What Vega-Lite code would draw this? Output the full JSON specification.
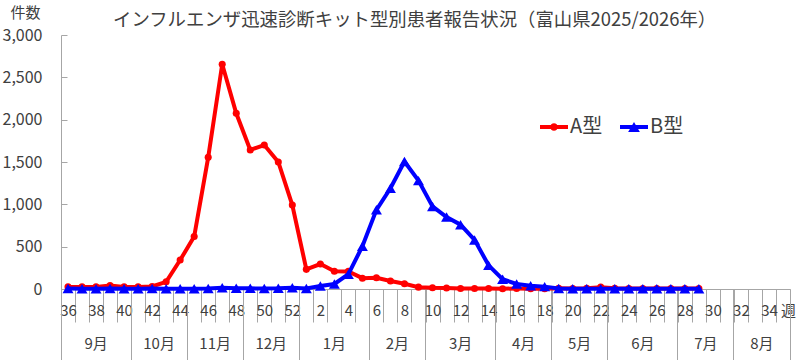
{
  "$schema": "https://vega.github.io/schema/vega-lite/v6.json",
  "autosize": "none",
  "width": 729,
  "height": 254,
  "padding": {"left": 61, "top": 35, "right": 10, "bottom": 71},
  "background": "white",
  "config": {"view": {"stroke": null}, "font": "Noto Sans CJK JP"},
  "title": {"text": "インフルエンザ迅速診断キット型別患者報告状況（富山県2025/2026年）", "anchor": "start", "frame": "group", "dx": 52, "dy": 28, "fontSize": 18.4, "fontWeight": "normal", "color": "#404040", "font": "Noto Sans CJK JP"},
  "data": {"values": [
    {"week":"36","type":"A型","count":25},{"week":"37","type":"A型","count":25},{"week":"38","type":"A型","count":25},{"week":"39","type":"A型","count":40},{"week":"40","type":"A型","count":25},{"week":"41","type":"A型","count":25},{"week":"42","type":"A型","count":30},{"week":"43","type":"A型","count":85},{"week":"44","type":"A型","count":342},{"week":"45","type":"A型","count":620},{"week":"46","type":"A型","count":1555},{"week":"47","type":"A型","count":2655},{"week":"48","type":"A型","count":2075},{"week":"49","type":"A型","count":1642},{"week":"50","type":"A型","count":1700},{"week":"51","type":"A型","count":1500},{"week":"52","type":"A型","count":992},{"week":"1","type":"A型","count":232},{"week":"2","type":"A型","count":295},{"week":"3","type":"A型","count":210},{"week":"4","type":"A型","count":208},{"week":"5","type":"A型","count":128},{"week":"6","type":"A型","count":132},{"week":"7","type":"A型","count":95},{"week":"8","type":"A型","count":62},{"week":"9","type":"A型","count":22},{"week":"10","type":"A型","count":15},{"week":"11","type":"A型","count":12},{"week":"12","type":"A型","count":6},{"week":"13","type":"A型","count":6},{"week":"14","type":"A型","count":5},{"week":"15","type":"A型","count":4},{"week":"16","type":"A型","count":5},{"week":"17","type":"A型","count":3},{"week":"18","type":"A型","count":3},{"week":"19","type":"A型","count":8},{"week":"20","type":"A型","count":5},{"week":"21","type":"A型","count":8},{"week":"22","type":"A型","count":22},{"week":"23","type":"A型","count":8},{"week":"24","type":"A型","count":5},{"week":"25","type":"A型","count":5},{"week":"26","type":"A型","count":5},{"week":"27","type":"A型","count":5},{"week":"28","type":"A型","count":5},{"week":"29","type":"A型","count":5},
    {"week":"36","type":"B型","count":5},{"week":"37","type":"B型","count":3},{"week":"38","type":"B型","count":3},{"week":"39","type":"B型","count":5},{"week":"40","type":"B型","count":3},{"week":"41","type":"B型","count":3},{"week":"42","type":"B型","count":5},{"week":"43","type":"B型","count":3},{"week":"44","type":"B型","count":3},{"week":"45","type":"B型","count":3},{"week":"46","type":"B型","count":5},{"week":"47","type":"B型","count":15},{"week":"48","type":"B型","count":10},{"week":"49","type":"B型","count":8},{"week":"50","type":"B型","count":5},{"week":"51","type":"B型","count":8},{"week":"52","type":"B型","count":15},{"week":"1","type":"B型","count":5},{"week":"2","type":"B型","count":35},{"week":"3","type":"B型","count":59},{"week":"4","type":"B型","count":175},{"week":"5","type":"B型","count":505},{"week":"6","type":"B型","count":935},{"week":"7","type":"B型","count":1190},{"week":"8","type":"B型","count":1505},{"week":"9","type":"B型","count":1280},{"week":"10","type":"B型","count":975},{"week":"11","type":"B型","count":850},{"week":"12","type":"B型","count":760},{"week":"13","type":"B型","count":580},{"week":"14","type":"B型","count":280},{"week":"15","type":"B型","count":115},{"week":"16","type":"B型","count":60},{"week":"17","type":"B型","count":38},{"week":"18","type":"B型","count":28},{"week":"19","type":"B型","count":5},{"week":"20","type":"B型","count":3},{"week":"21","type":"B型","count":3},{"week":"22","type":"B型","count":3},{"week":"23","type":"B型","count":3},{"week":"24","type":"B型","count":3},{"week":"25","type":"B型","count":3},{"week":"26","type":"B型","count":3},{"week":"27","type":"B型","count":3},{"week":"28","type":"B型","count":3},{"week":"29","type":"B型","count":3}
  ]},
  "resolve": {"axis": {"x": "independent"}},
  "layer": [
    {
      "transform": [{"filter": "datum.type == 'A型'"}],
      "mark": {"type": "line", "strokeWidth": 4, "color": "#FF0000"},
      "encoding": {
        "x": {"field": "week", "type": "ordinal", "bandPosition": 0.5,
          "scale": {"type": "band", "paddingInner": 0, "paddingOuter": 0, "domain": ["36","37","38","39","40","41","42","43","44","45","46","47","48","49","50","51","52","1","2","3","4","5","6","7","8","9","10","11","12","13","14","15","16","17","18","19","20","21","22","23","24","25","26","27","28","29","30","31","32","33","34","35"]},
          "axis": {"orient": "bottom", "title": null, "tickBand": "extent", "tickSize": 33, "tickColor": "#A6A6A6", "domainColor": "#A6A6A6", "labelAngle": 0, "labelFontSize": 15, "labelColor": "#404040", "labelPadding": -19, "labelOverlap": false, "labelBound": false, "labelFlush": false,
            "labelOffset": {"condition": {"test": "datum.value == '35'", "value": 5}, "value": 0},
            "labelExpr": "datum.value == '35' ? '週' : (toNumber(datum.value) % 2 == 0 ? datum.value : '')"}},
        "y": {"field": "count", "type": "quantitative", "scale": {"domain": [0, 3000], "nice": false},
          "axis": {"title": "件数", "titleAngle": 0, "titleAlign": "left", "titleBaseline": "middle", "titleX": -51, "titleY": -23, "titleFontSize": 15, "titleFontWeight": "normal", "titleColor": "#404040",
            "values": [0, 500, 1000, 1500, 2000, 2500, 3000], "format": ",d", "grid": false, "domainColor": "#A6A6A6", "tickColor": "#A6A6A6", "tickSize": -6, "labelPadding": 25, "labelFontSize": 16, "labelColor": "#404040"}}
      }
    },
    {
      "transform": [{"filter": "datum.type == 'A型'"}],
      "mark": {"type": "point", "filled": true, "opacity": 1, "shape": "circle", "size": 50, "color": "#FF0000"},
      "encoding": {
        "x": {"field": "week", "type": "ordinal", "bandPosition": 0.5, "axis": null},
        "y": {"field": "count", "type": "quantitative"}
      }
    },
    {
      "transform": [{"filter": "datum.type == 'B型'"}],
      "mark": {"type": "line", "strokeWidth": 4, "color": "#0000FF"},
      "encoding": {
        "x": {"field": "week", "type": "ordinal", "bandPosition": 0.5, "axis": null},
        "y": {"field": "count", "type": "quantitative"}
      }
    },
    {
      "transform": [{"filter": "datum.type == 'B型'"}],
      "mark": {"type": "point", "filled": true, "opacity": 1, "shape": "triangle-up", "size": 120, "color": "#0000FF"},
      "encoding": {
        "x": {"field": "week", "type": "ordinal", "bandPosition": 0.5, "axis": null},
        "y": {"field": "count", "type": "quantitative"}
      }
    },
    {
      "data": {"values": []},
      "mark": {"type": "point", "filled": true},
      "encoding": {
        "fill": {"field": "type", "type": "nominal", "scale": {"domain": ["A型"], "range": ["#FF0000"]},
          "legend": {"title": null, "orient": "none", "legendX": 479, "legendY": 78, "direction": "horizontal", "symbolType": "M-1,-0.14H1V0.14H-1Z M-0.27,0A0.27,0.27,0,1,1,0.27,0A0.27,0.27,0,1,1,-0.27,0Z", "symbolSize": 784, "symbolStrokeWidth": 0, "symbolOpacity": 1, "labelFontSize": 20, "labelColor": "#404040", "labelOffset": 2, "padding": 0}}
      }
    },
    {
      "data": {"values": []},
      "mark": {"type": "point", "filled": true},
      "encoding": {
        "color": {"field": "type", "type": "nominal", "scale": {"domain": ["B型"], "range": ["#0000FF"]},
          "legend": {"title": null, "orient": "none", "legendX": 559, "legendY": 78, "direction": "horizontal", "symbolType": "M-1,-0.14H1V0.14H-1Z M0,-0.36L0.42,0.36L-0.42,0.36Z", "symbolSize": 784, "symbolStrokeWidth": 0, "symbolOpacity": 1, "labelFontSize": 20, "labelColor": "#404040", "labelOffset": 2, "padding": 0}}
      }
    },
    {
      "mark": {"type": "point", "opacity": 0},
      "encoding": {
        "x": {"field": "week", "type": "ordinal", "axis": {"orient": "bottom", "title": null, "values": ["40","44","48","52","5","9","14","18","22","27","31","35"], "bandPosition": 1, "tickExtra": false, "tickSize": 71, "tickColor": "#A6A6A6", "labels": false, "domain": false, "grid": false}}
      }
    },
    {
      "mark": {"type": "point", "opacity": 0},
      "encoding": {
        "x": {"field": "week", "type": "ordinal", "axis": {"orient": "bottom", "title": null, "values": ["36"], "bandPosition": 0, "tickExtra": false, "tickSize": 71, "tickColor": "#A6A6A6", "labels": false, "domain": false, "grid": false}}
      }
    },
    {
      "mark": {"type": "point", "opacity": 0},
      "encoding": {
        "x": {"field": "week", "type": "ordinal", "axis": {"orient": "bottom", "title": null, "values": ["38","3","12","25"], "ticks": false, "domain": false, "grid": false, "labelAngle": 0, "labelPadding": 47, "labelFontSize": 15, "labelColor": "#404040",
          "labelExpr": "datum.value == '38' ? '9月' : datum.value == '3' ? '1月' : datum.value == '12' ? '3月' : '6月'"}}
      }
    },
    {
      "mark": {"type": "point", "opacity": 0},
      "encoding": {
        "x": {"field": "week", "type": "ordinal", "axis": {"orient": "bottom", "title": null, "values": ["42","46","50","7","16","20","29","33"], "ticks": false, "domain": false, "grid": false, "labelAngle": 0, "labelPadding": 47, "labelOffset": 7, "labelFontSize": 15, "labelColor": "#404040",
          "labelExpr": "datum.value == '42' ? '10月' : datum.value == '46' ? '11月' : datum.value == '50' ? '12月' : datum.value == '7' ? '2月' : datum.value == '16' ? '4月' : datum.value == '20' ? '5月' : datum.value == '29' ? '7月' : '8月'"}}
      }
    }
  ]
}
